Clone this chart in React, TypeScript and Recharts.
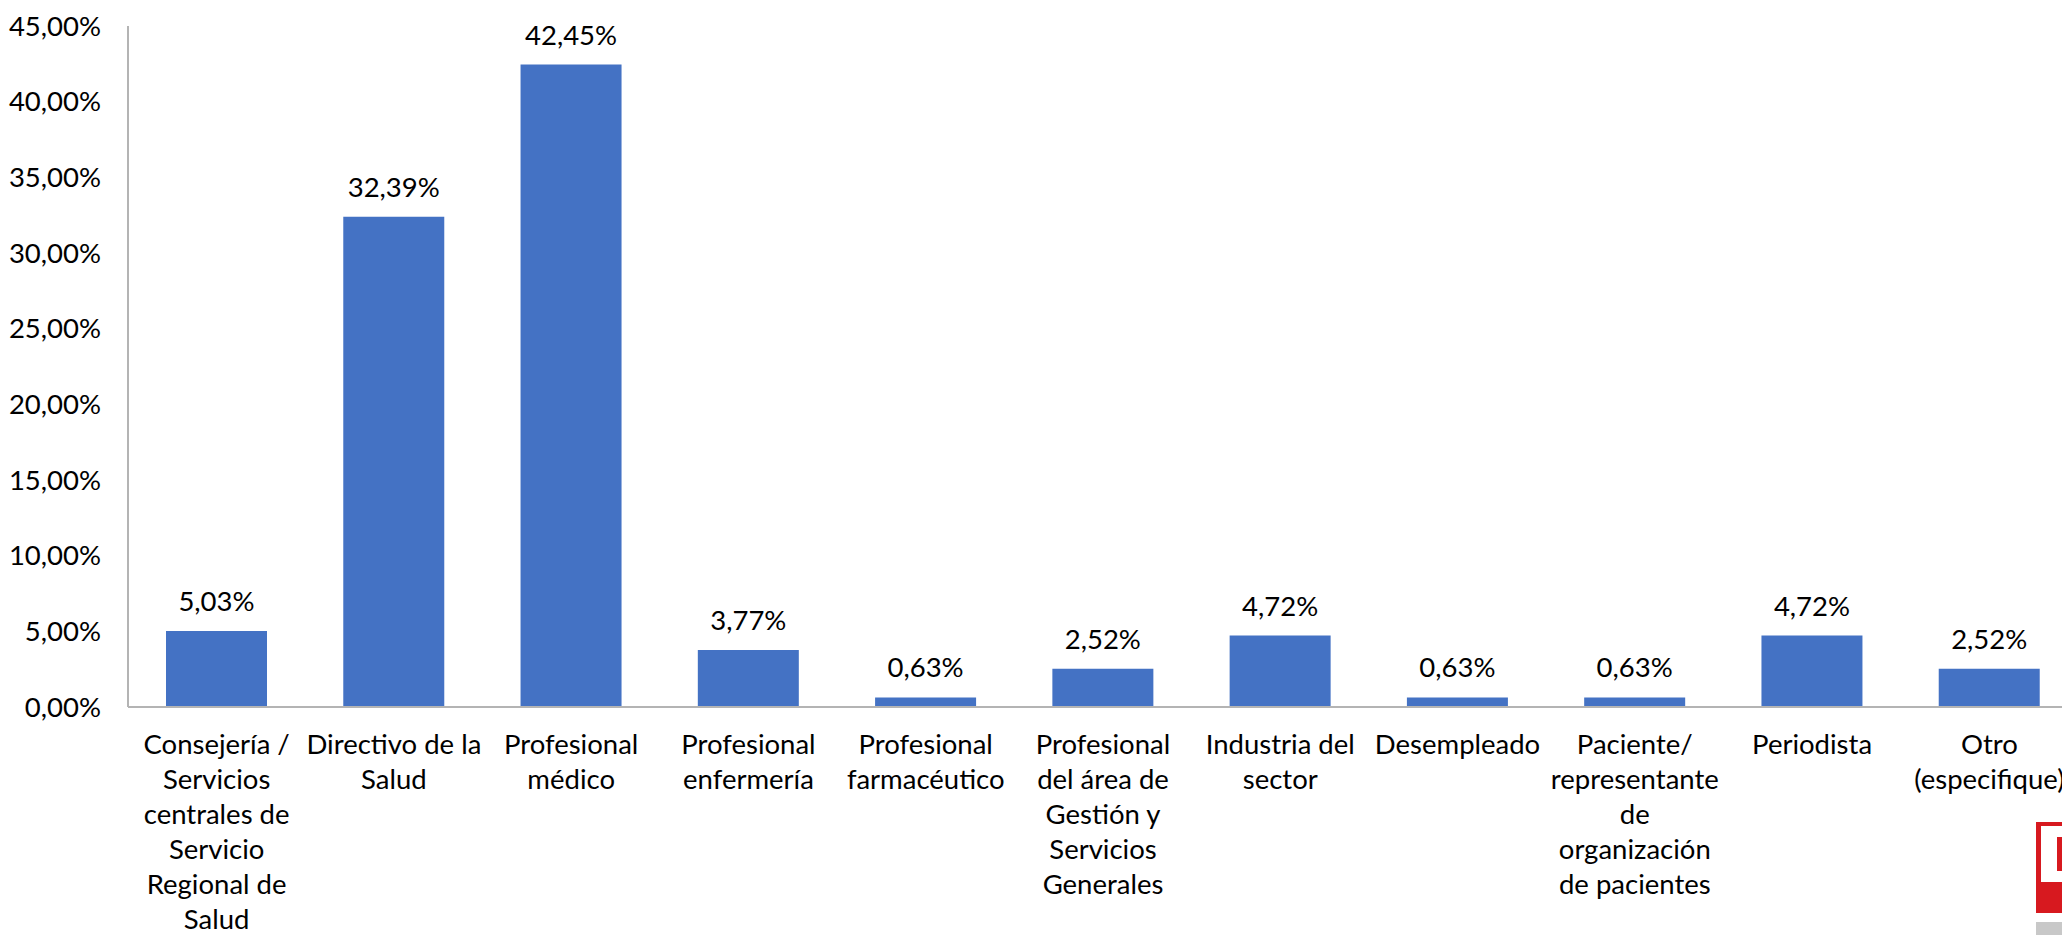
import React from "react";
import { BarChart, Bar, XAxis, YAxis, LabelList } from "recharts";

// category labels, split the same way the original wraps them
const categoryLines: string[][] = [
  ["Consejería /", "Servicios", "centrales de", "Servicio", "Regional de", "Salud"],
  ["Directivo de la", "Salud"],
  ["Profesional", "médico"],
  ["Profesional", "enfermería"],
  ["Profesional", "farmacéutico"],
  ["Profesional", "del área de", "Gestión y", "Servicios", "Generales"],
  ["Industria del", "sector"],
  ["Desempleado"],
  ["Paciente/", "representante", "de", "organización", "de pacientes"],
  ["Periodista"],
  ["Otro", "(especifique)"],
];

const percentages = [5.03, 32.39, 42.45, 3.77, 0.63, 2.52, 4.72, 0.63, 0.63, 4.72, 2.52];

const yTicks = [0, 5, 10, 15, 20, 25, 30, 35, 40, 45];

const data = categoryLines.map((lines, i) => ({
  name: lines.join(" "),
  value: percentages[i],
}));

const FONT = "Lato, 'Open Sans', sans-serif";
const FS = 27.5;
const fmt = (v: number) => v.toFixed(2).replace(".", ",") + "%";

const CategoryTick = (props: any) => {
  const { x, y, payload } = props;
  const lines = categoryLines[payload.index] || [payload.value];
  return (
    <text x={x} y={y} textAnchor="middle" fontSize={FS} fontFamily={FONT} fill="#000">
      {lines.map((l, i) => (
        <tspan key={i} x={x} y={y + 47 + i * 35}>
          {l}
        </tspan>
      ))}
    </text>
  );
};

const App: React.FC = () => {
  return (
    <div
      style={{
        position: "absolute",
        left: 0,
        top: 0,
        width: 2062,
        height: 935,
        overflow: "hidden",
        background: "#fff",
      }}
    >
      <BarChart
        width={2078}
        height={935}
        data={data}
        margin={{ top: 26, right: 0, left: 0, bottom: 0 }}
        barSize={101}
      >
        <XAxis
          dataKey="name"
          interval={0}
          height={228}
          tickLine={false}
          tickSize={0}
          tickMargin={0}
          axisLine={{ stroke: "#b4b4b4", strokeWidth: 2 }}
          tick={<CategoryTick />}
        />
        <YAxis
          width={128}
          domain={[0, 45]}
          ticks={yTicks}
          interval={0}
          tickLine={false}
          tickSize={0}
          tickMargin={27}
          axisLine={{ stroke: "#b4b4b4", strokeWidth: 2 }}
          tickFormatter={fmt}
          tick={{ fontSize: FS, fontFamily: FONT, fill: "#000" }}
        />
        <Bar dataKey="value" fill="#4472c4" isAnimationActive={false}>
          <LabelList
            dataKey="value"
            position="top"
            offset={20}
            formatter={(v: any) => fmt(Number(v))}
            style={{ fontSize: FS, fontFamily: FONT, fill: "#000" }}
          />
        </Bar>
      </BarChart>
      {/* logo fragment at bottom right */}
      <div style={{ position: "absolute", left: 2036, top: 822, width: 40, height: 91, background: "#d7191f" }} />
      <div style={{ position: "absolute", left: 2041, top: 826, width: 40, height: 56, background: "#fff" }} />
      <div style={{ position: "absolute", left: 2057, top: 837, width: 20, height: 34, background: "#d7191f" }} />
      <div style={{ position: "absolute", left: 2036, top: 922, width: 40, height: 13, background: "#c8c8c8" }} />
    </div>
  );
};

export default App;
